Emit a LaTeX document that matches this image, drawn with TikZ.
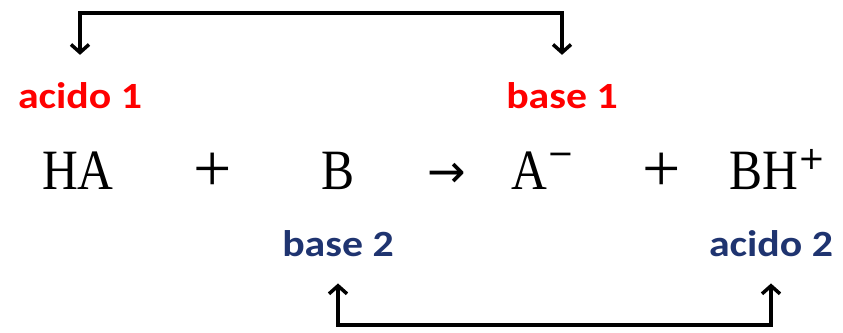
\documentclass[tikz,border=0pt]{standalone}
\usepackage{fontspec}
\setmainfont{Liberation Serif}
\newfontfamily\eqfont[FakeStretch=0.87]{Liberation Serif}
\newfontfamily\symfont{Liberation Serif}
\newfontfamily\arrfont{DejaVu Sans}
\newfontfamily\labelfont[FakeStretch=1.13]{Carlito}
\usetikzlibrary{arrows.meta}
\definecolor{acidred}{HTML}{FF0000}
\definecolor{basenavy}{HTML}{1F3470}

\newcommand{\chsup}[2]{\raisebox{#1}{\arrfont\fontsize{32}{32}\selectfont #2}}

\begin{document}
\begin{tikzpicture}[
    x=1pt, y=-1pt,
    every node/.style={inner sep=0pt},
    lbl/.style={font=\labelfont\bfseries\fontsize{37}{40}\selectfont, anchor=base},
    term/.style={font=\eqfont\fontsize{57}{60}\selectfont, anchor=base},
    sign/.style={font=\symfont\fontsize{68}{70}\selectfont, anchor=base},
    pair/.style={
        {Straight Barb[length=8pt,width=18pt]}-{Straight Barb[length=8pt,width=18pt]},
        line width=3.5pt,
        shorten <=27pt,
        shorten >=27pt
    }
]
\useasboundingbox (0,0) rectangle (843,332);

% equation
\node[term] (ha) at (78,189) {HA};
\node[sign] (plus1) at (213,191) {+};
\node[term] (b) at (338,189) {B};
\node[font=\arrfont\fontsize{46}{46}\selectfont, anchor=center] (arr) at (447,175) {→};
\node[term] (am) at (543,189) {A\chsup{25pt}{−}};
\node[sign] (plus2) at (662,191) {+};
\node[term] (bhp) at (777,189) {BH\chsup{20pt}{+}};

% labels
\node[lbl, text=acidred] (acido1) at (80,108) {acido 1};
\node[lbl, text=acidred] (base1) at (562,108) {base 1};
\node[lbl, text=basenavy] (base2) at (338,256) {base 2};
\node[lbl, text=basenavy] (acido2) at (771,256) {acido 2};

\coordinate (topbar) at (0,13);
\coordinate (botbar) at (0,325);

% ARROWS
\draw[pair] (acido1.north) -- (acido1.north |- topbar) -| (base1.north);
\draw[pair] (base2.south) -- (base2.south |- botbar) -| (acido2.south);

\end{tikzpicture}
\end{document}
